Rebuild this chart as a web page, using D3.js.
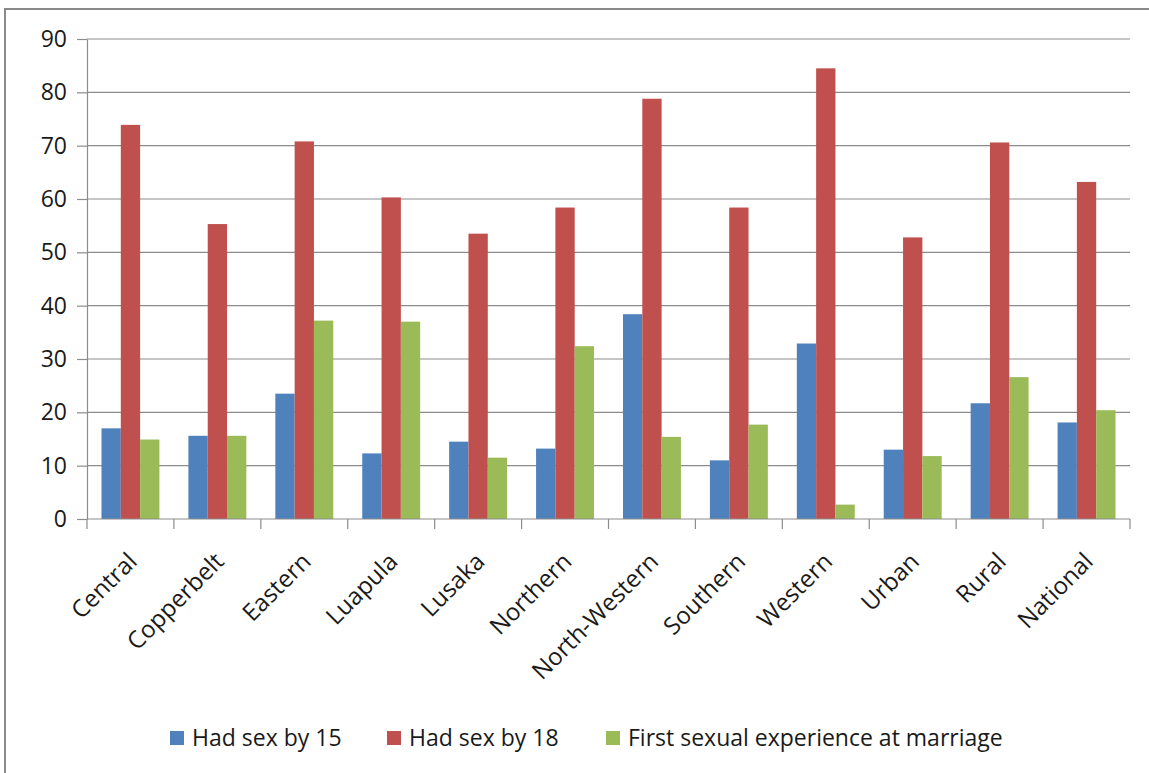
<!DOCTYPE html>
<html>
<head>
<meta charset="utf-8">
<script src="https://cdn.jsdelivr.net/npm/d3@7"></script>
<style>
  html, body { margin: 0; padding: 0; background: #fff; }
  svg { display: block; }
</style>
</head>
<body>
<svg id="chart" width="1149" height="773"></svg>
<script>
const categories = ["Central", "Copperbelt", "Eastern", "Luapula", "Lusaka", "Northern",
  "North-Western", "Southern", "Western", "Urban", "Rural", "National"];
const seriesNames = ["Had sex by 15", "Had sex by 18", "First sexual experience at marriage"];
const hadSexBy15 = [17.0, 15.6, 23.5, 12.3, 14.5, 13.2, 38.4, 11.0, 32.9, 13.0, 21.7, 18.1];
const hadSexBy18 = [73.9, 55.3, 70.8, 60.3, 53.5, 58.4, 78.8, 58.4, 84.5, 52.8, 70.6, 63.2];
const firstAtMarriage = [14.9, 15.6, 37.2, 37.0, 11.5, 32.4, 15.4, 17.7, 2.7, 11.8, 26.6, 20.4];
const yTicks = [0, 10, 20, 30, 40, 50, 60, 70, 80, 90];
const colors = ["#4F81BD", "#C0504D", "#9BBB59"];

const seriesValues = [hadSexBy15, hadSexBy18, firstAtMarriage];
const FONT = "'Open Sans', sans-serif";

const svg = d3.select("#chart");

// outer frame
svg.append("rect")
  .attr("x", 5).attr("y", 9)
  .attr("width", 1200).attr("height", 800)
  .attr("fill", "none").attr("stroke", "#8a8a8a").attr("stroke-width", 2);

const plot = { left: 87, right: 1130, top: 39, bottom: 519 };

const x0 = d3.scaleBand().domain(categories)
  .range([plot.left, plot.right]).paddingInner(1 / 3).paddingOuter(1 / 6);
const x1 = d3.scaleBand().domain(d3.range(seriesNames.length))
  .range([0, x0.bandwidth()]);
const y = d3.scaleLinear().domain([0, 90]).range([plot.bottom, plot.top]);

// gridlines
svg.append("g").selectAll("line").data(yTicks.filter(d => d > 0)).join("line")
  .attr("x1", plot.left).attr("x2", plot.right)
  .attr("y1", d => y(d)).attr("y2", d => y(d))
  .attr("stroke", "#8c8c8c").attr("stroke-width", 1.2);

// bars
const groups = svg.append("g").selectAll("g").data(categories).join("g")
  .attr("transform", d => `translate(${x0(d)},0)`);
groups.selectAll("rect")
  .data((c, i) => seriesValues.map((vals, s) => ({ s, v: vals[i] })))
  .join("rect")
  .attr("x", d => x1(d.s))
  .attr("width", x1.bandwidth())
  .attr("y", d => y(d.v))
  .attr("height", d => y(0) - y(d.v))
  .attr("fill", d => colors[d.s]);

// y axis
const yAxis = svg.append("g")
  .attr("transform", `translate(${plot.left},0)`)
  .call(d3.axisLeft(y).tickValues(yTicks).tickSize(10).tickPadding(10).tickSizeOuter(0));
yAxis.select(".domain").attr("stroke", "#8c8c8c").attr("stroke-width", 1.2);
yAxis.selectAll(".tick line").attr("stroke", "#8c8c8c").attr("stroke-width", 1.2);
yAxis.selectAll(".tick text")
  .attr("font-family", FONT).attr("font-size", 23).attr("fill", "#1a1a1a");

// x axis: ticks at band boundaries
const boundaries = categories.map(c => x0(c) - x0.step() * x0.paddingInner() / 2)
  .concat([plot.right]);
const xg = svg.append("g");
xg.append("line")
  .attr("x1", plot.left).attr("x2", plot.right)
  .attr("y1", plot.bottom).attr("y2", plot.bottom)
  .attr("stroke", "#8c8c8c").attr("stroke-width", 1.2);
xg.selectAll("line.tk").data(boundaries).join("line").attr("class", "tk")
  .attr("x1", d => d).attr("x2", d => d)
  .attr("y1", plot.bottom).attr("y2", plot.bottom + 10)
  .attr("stroke", "#8c8c8c").attr("stroke-width", 1.2);

xg.selectAll("text").data(categories).join("text")
  .attr("transform", d => `translate(${x0(d) + x0.bandwidth() / 2 + 8},${plot.bottom + 44}) rotate(-45)`)
  .attr("text-anchor", "end")
  .attr("font-family", FONT).attr("font-size", 24).attr("fill", "#1a1a1a")
  .text(d => d);

// legend
const legendItems = [
  { name: seriesNames[0], x: 170 },
  { name: seriesNames[1], x: 387 },
  { name: seriesNames[2], x: 606 }
];
const lg = svg.append("g").selectAll("g").data(legendItems).join("g")
  .attr("transform", d => `translate(${d.x},738)`);
lg.append("rect").attr("x", 0).attr("y", -7).attr("width", 14).attr("height", 14)
  .attr("fill", (d, i) => colors[i]);
lg.append("text").attr("x", 22).attr("y", 0).attr("dy", "0.35em")
  .attr("font-family", FONT).attr("font-size", 23).attr("fill", "#1a1a1a")
  .text(d => d.name);
</script>
</body>
</html>
